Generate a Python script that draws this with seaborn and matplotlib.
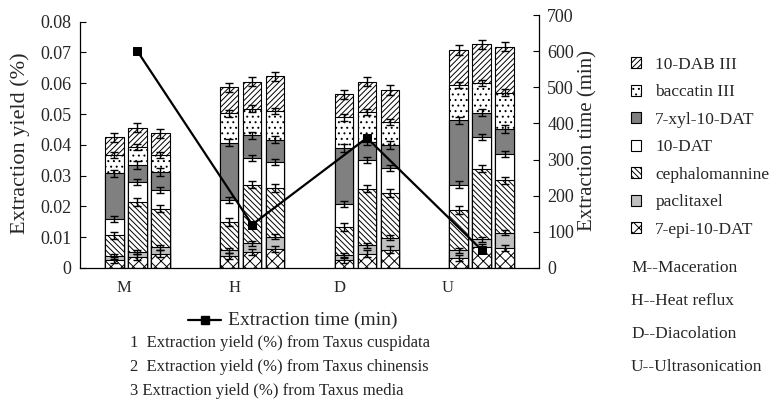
import numpy as np
import pandas as pd
import matplotlib
matplotlib.use("Agg")
import matplotlib.pyplot as plt
from matplotlib.patches import Patch
from matplotlib.lines import Line2D
import seaborn as sns

# ---------------- data ----------------
methods = ["M", "H", "D", "U"]
method_names = ["M--Maceration", "H--Heat reflux", "D--Diacolation", "U--Ultrasonication"]
species = ["1", "2", "3"]
species_notes = ["1  Extraction yield (%) from Taxus cuspidata",
                 "2  Extraction yield (%) from Taxus chinensis",
                 "3 Extraction yield (%) from Taxus media"]
components = ["7-epi-10-DAT", "paclitaxel", "cephalomannine", "10-DAT",
              "7-xyl-10-DAT", "baccatin III", "10-DAB III"]

# bar order: M1 M2 M3 H1 H2 H3 D1 D2 D3 U1 U2 U3
epi_10_dat = [0.0025, 0.0036, 0.0047, 0.0040, 0.0052, 0.0063, 0.0025, 0.0047, 0.0060, 0.0033, 0.0068, 0.0065]
paclitaxel = [0.0013, 0.0016, 0.0021, 0.0018, 0.0029, 0.0038, 0.0016, 0.0027, 0.0038, 0.0024, 0.0025, 0.0049]
cephalomannine = [0.0068, 0.0163, 0.0125, 0.0092, 0.0190, 0.0159, 0.0092, 0.0184, 0.0146, 0.0131, 0.0230, 0.0171]
dat_10 = [0.0054, 0.0065, 0.0060, 0.0072, 0.0087, 0.0083, 0.0074, 0.0092, 0.0081, 0.0083, 0.0103, 0.0086]
xyl_10_dat = [0.0147, 0.0054, 0.0059, 0.0185, 0.0073, 0.0074, 0.0183, 0.0060, 0.0074, 0.0209, 0.0079, 0.0081]
baccatin_iii = [0.0059, 0.0059, 0.0054, 0.0095, 0.0087, 0.0092, 0.0099, 0.0097, 0.0076, 0.0114, 0.0095, 0.0118]
dab_iii = [0.0058, 0.0063, 0.0071, 0.0085, 0.0087, 0.0114, 0.0075, 0.0098, 0.0103, 0.0114, 0.0127, 0.0149]
layer_err = [0.0010, 0.0008, 0.0012, 0.0010, 0.0012, 0.0010, 0.0015]

extraction_time = [600, 120, 360, 50]

yield_ticks = [0, 0.01, 0.02, 0.03, 0.04, 0.05, 0.06, 0.07, 0.08]
yield_labels = ["0", "0.01", "0.02", "0.03", "0.04", "0.05", "0.06", "0.07", "0.08"]
time_ticks = [0, 100, 200, 300, 400, 500, 600, 700]

layers = [epi_10_dat, paclitaxel, cephalomannine, dat_10, xyl_10_dat, baccatin_iii, dab_iii]
styles = [  # facecolor, hatch
    ("white", "xxx"),
    ("#c0c0c0", ""),
    ("white", "\\\\\\\\\\\\"),
    ("white", ""),
    ("#808080", ""),
    ("white", "..."),
    ("white", "//////"),
]

# ---------------- style ----------------
sns.set_theme(style="white")
plt.rcParams["font.family"] = ["Liberation Serif", "DejaVu Serif"]
plt.rcParams["hatch.linewidth"] = 0.7
plt.rcParams["hatch.color"] = "black"

W, H = 780, 411
fig = plt.figure(figsize=(W / 100, H / 100), dpi=100)
ax = fig.add_axes([80 / W, 1 - 268 / H, (539 - 80) / W, (268 - 21.7) / H])
ax2 = fig.add_axes([80 / W, 1 - 268 / H, (539 - 80) / W, (268 - 15) / H])
ax2.patch.set_visible(False)

# slot positions: each method group = 3 bars + 2 empty slots
pos = [1 + 5 * g + s for g in range(len(methods)) for s in range(len(species))]
df = pd.DataFrame({"pos": pos})
cum = np.cumsum(np.array(layers), axis=0)
for i in range(len(layers)):
    df[f"cum{i}"] = cum[i]

for i in reversed(range(len(layers))):
    fc, hatch = styles[i]
    sns.barplot(data=df, x="pos", y=f"cum{i}", native_scale=True, width=0.8,
                color=fc, saturation=1, hatch=hatch, edgecolor="black",
                linewidth=0.8, errorbar=None, ax=ax, zorder=2)

for i in range(len(layers)):
    ax.errorbar(df["pos"], cum[i], yerr=layer_err[i], fmt="none", ecolor="black",
                elinewidth=1.0, capsize=3, capthick=1.0, zorder=5)

ax.set_xlim(-0.5, 19.5)
ax.set_ylim(0, 0.08)
ax.set_yticks(yield_ticks, yield_labels)
ax.set_xlabel("")
ax.set_ylabel("")
label_pos = [1.42, 6.25, 10.79, 15.53]
ax.set_xticks(label_pos, methods)
ax.set_xticks(np.arange(0.5, 19.5, 1.0), minor=True)
ax.tick_params(axis="x", which="major", length=0, pad=9, labelsize=12)
ax.tick_params(axis="x", which="minor", direction="in", length=4, width=0.8, color="black")
ax.tick_params(axis="y", direction="in", length=4, width=0.8, color="black",
               left=True, pad=6, labelsize=13)
for sp in ["top", "right"]:
    ax.spines[sp].set_visible(False)
for sp in ["left", "bottom"]:
    ax.spines[sp].set_color("black")
    ax.spines[sp].set_linewidth(0.9)

# extraction time line on secondary axis
line_x = [2, 7, 12, 17]
sns.lineplot(x=line_x, y=extraction_time, ax=ax2, color="black", marker="s",
             markersize=5.5, linewidth=1.6, markeredgecolor="black")
ax2.set_xlim(-0.5, 19.5)
ax2.set_ylim(0, 700)
ax2.set_xticks([])
ax2.set_xlabel("")
ax2.set_ylabel("")
ax2.yaxis.tick_right()
ax2.set_yticks(time_ticks)
ax2.tick_params(axis="y", direction="in", length=4, width=0.8, color="black",
                right=True, left=False, pad=6, labelsize=13)
for sp in ["top", "left", "bottom"]:
    ax2.spines[sp].set_visible(False)
ax2.spines["right"].set_color("black")
ax2.spines["right"].set_linewidth(0.9)

# axis titles
fig.text(20 / W, 1 - 143 / H, "Extraction yield (%)", rotation=90, ha="center",
         va="center", fontsize=16)
fig.text(588 / W, 1 - 140 / H, "Extraction time (min)", rotation=90, ha="center",
         va="center", fontsize=15)

# right legend (components, top to bottom)
handles = [Patch(facecolor=styles[i][0], hatch=styles[i][1], edgecolor="black",
                 linewidth=0.8) for i in reversed(range(len(layers)))]
labels = [components[i] for i in reversed(range(len(layers)))]
fig.legend(handles, labels, loc="upper left", bbox_to_anchor=(631 / W, 1 - 57 / H),
           frameon=False, fontsize=12.5, handlelength=0.6, handleheight=0.6,
           handletextpad=0.8, labelspacing=0.66, borderpad=0, borderaxespad=0)

for k, name in enumerate(method_names):
    fig.text(631 / W, 1 - (268 + 33 * k) / H, name, ha="left", va="center", fontsize=12.5)

# bottom legend for the line
fig.add_artist(Line2D([188 / W, 221 / W], [1 - 320 / H] * 2, color="black", linewidth=1.6))
fig.add_artist(Line2D([204.5 / W], [1 - 320 / H], color="black", marker="s",
                      markersize=5.5, linestyle="none"))
fig.text(228 / W, 1 - 320 / H, "Extraction time (min)", ha="left", va="center", fontsize=14)
for k, note in enumerate(species_notes):
    fig.text(130 / W, 1 - (343 + 24 * k) / H, note, ha="left", va="center", fontsize=12)

fig.savefig("out.png", dpi=100, facecolor="white")
